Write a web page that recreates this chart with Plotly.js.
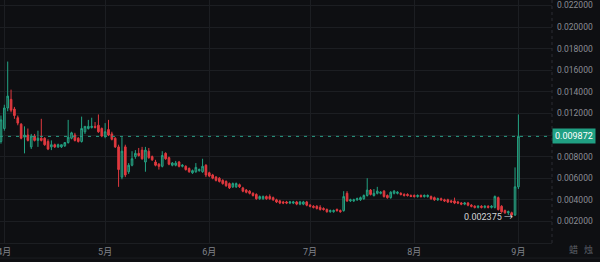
<!DOCTYPE html>
<html>
<head>
<meta charset="utf-8">
<script src="https://cdn.plot.ly/plotly-3.0.1.min.js"></script>
<style>
  html, body { margin: 0; padding: 0; background: #0e0f12; }
  #chart { width: 600px; height: 262px; }
</style>
</head>
<body>
<div id="chart"></div>
<script>
// ---- data (daily candles, first date 2024-03-31) ----
const startDate = '2024-03-31';
const open = [
  0.0094, 0.0106, 0.0125, 0.0133, 0.0124, 0.0116, 0.0110, 0.0098, 0.0100, 0.0089,
  0.0099, 0.0095, 0.0097, 0.0097, 0.0094, 0.0089, 0.0091, 0.0089, 0.0089, 0.0090,
  0.0093, 0.0097, 0.0100, 0.0097, 0.0094, 0.0103, 0.0106, 0.0107, 0.0108, 0.0109,
  0.0106, 0.0099, 0.0105, 0.0101, 0.0097, 0.0089, 0.0061, 0.0089, 0.0066, 0.0072,
  0.0080, 0.0083, 0.0086, 0.0075, 0.0085, 0.0080, 0.0075, 0.0073, 0.0071, 0.0083,
  0.0079, 0.0072, 0.0072, 0.0075, 0.0071, 0.0071, 0.0069, 0.0065, 0.0066, 0.0067,
  0.0066, 0.0072, 0.0065, 0.0063, 0.0061, 0.0060, 0.0058, 0.0057, 0.0055, 0.0052,
  0.0052, 0.0054, 0.0051, 0.0049, 0.0048, 0.0046, 0.0045, 0.0041, 0.0041, 0.0043,
  0.0043, 0.0042, 0.0040, 0.0039, 0.0038, 0.0038, 0.0037, 0.0037, 0.0038, 0.0036,
  0.0036, 0.0038, 0.0035, 0.0034, 0.0034, 0.0033, 0.0032, 0.0031, 0.0029, 0.0029,
  0.0031, 0.0030, 0.0030, 0.0046, 0.0039, 0.0039, 0.0040, 0.0040, 0.0041, 0.0044,
  0.0049, 0.0044, 0.0046, 0.0046, 0.0048, 0.0044, 0.0042, 0.0046, 0.0046, 0.0046,
  0.0045, 0.0045, 0.0044, 0.0044, 0.0043, 0.0044, 0.0043, 0.0043, 0.0043, 0.0042,
  0.0040, 0.0041, 0.0040, 0.0040, 0.0039, 0.0039, 0.0038, 0.0037, 0.0036, 0.0037,
  0.0035, 0.0034, 0.0033, 0.0034, 0.0033, 0.0034, 0.0033, 0.0033, 0.0042, 0.0034,
  0.0030, 0.0028, 0.0028, 0.0026, 0.0052
];
const high = [
  0.0118, 0.0128, 0.0168, 0.0142, 0.0126, 0.0118, 0.0111, 0.0108, 0.0106, 0.0101,
  0.0101, 0.0104, 0.0115, 0.0098, 0.0096, 0.0095, 0.0092, 0.0092, 0.0091, 0.0093,
  0.0114, 0.0103, 0.0102, 0.0098, 0.0117, 0.0108, 0.0114, 0.0116, 0.0112, 0.0119,
  0.0107, 0.0111, 0.0114, 0.0103, 0.0098, 0.0091, 0.0098, 0.0091, 0.0074, 0.0085,
  0.0086, 0.0088, 0.0089, 0.0089, 0.0088, 0.0081, 0.0077, 0.0074, 0.0085, 0.0084,
  0.0080, 0.0075, 0.0076, 0.0076, 0.0073, 0.0072, 0.0070, 0.0068, 0.0074, 0.0069,
  0.0078, 0.0073, 0.0066, 0.0064, 0.0062, 0.0061, 0.0059, 0.0058, 0.0056, 0.0056,
  0.0056, 0.0055, 0.0052, 0.0050, 0.0049, 0.0047, 0.0046, 0.0044, 0.0044, 0.0044,
  0.0045, 0.0043, 0.0041, 0.0040, 0.0039, 0.0039, 0.0039, 0.0039, 0.0039, 0.0039,
  0.0039, 0.0039, 0.0036, 0.0035, 0.0035, 0.0035, 0.0033, 0.0032, 0.0031, 0.0031,
  0.0032, 0.0031, 0.0048, 0.0048, 0.0041, 0.0041, 0.0042, 0.0043, 0.0045, 0.0060,
  0.0050, 0.0050, 0.0052, 0.0048, 0.0049, 0.0045, 0.0048, 0.0049, 0.0048, 0.0047,
  0.0046, 0.0046, 0.0045, 0.0045, 0.0045, 0.0045, 0.0045, 0.0045, 0.0044, 0.0043,
  0.0042, 0.0042, 0.0041, 0.0041, 0.0040, 0.0042, 0.0039, 0.0038, 0.0038, 0.0038,
  0.0036, 0.0035, 0.0035, 0.0035, 0.0035, 0.0035, 0.0035, 0.0044, 0.0043, 0.0035,
  0.0031, 0.0030, 0.0029, 0.0070, 0.0119
];
const low = [
  0.0092, 0.0104, 0.0122, 0.0121, 0.0115, 0.0109, 0.0096, 0.0083, 0.0094, 0.0087,
  0.0094, 0.0089, 0.0094, 0.0090, 0.0086, 0.0086, 0.0088, 0.0088, 0.0088, 0.0089,
  0.0092, 0.0096, 0.0094, 0.0093, 0.0093, 0.0101, 0.0105, 0.0106, 0.0106, 0.0102,
  0.0098, 0.0097, 0.0099, 0.0095, 0.0088, 0.0052, 0.0059, 0.0061, 0.0064, 0.0071,
  0.0078, 0.0080, 0.0077, 0.0066, 0.0078, 0.0076, 0.0071, 0.0068, 0.0070, 0.0077,
  0.0072, 0.0071, 0.0071, 0.0070, 0.0070, 0.0067, 0.0065, 0.0064, 0.0065, 0.0066,
  0.0065, 0.0061, 0.0061, 0.0059, 0.0057, 0.0056, 0.0054, 0.0052, 0.0050, 0.0051,
  0.0051, 0.0051, 0.0047, 0.0046, 0.0045, 0.0043, 0.0040, 0.0040, 0.0040, 0.0040,
  0.0040, 0.0039, 0.0037, 0.0036, 0.0036, 0.0036, 0.0036, 0.0036, 0.0035, 0.0035,
  0.0035, 0.0034, 0.0033, 0.0032, 0.0031, 0.0030, 0.0030, 0.0028, 0.0028, 0.0028,
  0.0029, 0.0028, 0.0029, 0.0038, 0.0038, 0.0038, 0.0039, 0.0039, 0.0040, 0.0043,
  0.0044, 0.0043, 0.0045, 0.0045, 0.0042, 0.0041, 0.0041, 0.0045, 0.0045, 0.0044,
  0.0043, 0.0043, 0.0043, 0.0042, 0.0042, 0.0042, 0.0042, 0.0042, 0.0040, 0.0039,
  0.0039, 0.0039, 0.0038, 0.0037, 0.0037, 0.0036, 0.0036, 0.0035, 0.0035, 0.0034,
  0.0033, 0.0032, 0.0032, 0.0032, 0.0032, 0.0032, 0.0032, 0.0032, 0.0030, 0.0028,
  0.0027, 0.0026, 0.002375, 0.0025, 0.0050
];
const close = [
  0.0114, 0.0125, 0.0136, 0.0123, 0.0118, 0.0111, 0.0097, 0.0100, 0.0095, 0.0099,
  0.0095, 0.0097, 0.0095, 0.0091, 0.0087, 0.0091, 0.0089, 0.0091, 0.0091, 0.0093,
  0.0098, 0.0102, 0.0095, 0.0094, 0.0106, 0.0108, 0.0108, 0.0108, 0.0107, 0.0103,
  0.0099, 0.0103, 0.0100, 0.0096, 0.0089, 0.0068, 0.0085, 0.0063, 0.0072, 0.0078,
  0.0083, 0.0081, 0.0078, 0.0086, 0.0079, 0.0077, 0.0072, 0.0071, 0.0081, 0.0078,
  0.0073, 0.0074, 0.0074, 0.0071, 0.0072, 0.0068, 0.0066, 0.0067, 0.0070, 0.0068,
  0.0071, 0.0063, 0.0062, 0.0060, 0.0058, 0.0057, 0.0055, 0.0053, 0.0051, 0.0055,
  0.0055, 0.0052, 0.0048, 0.0047, 0.0046, 0.0044, 0.0041, 0.0043, 0.0043, 0.0041,
  0.0041, 0.0040, 0.0038, 0.0037, 0.0037, 0.0037, 0.0038, 0.0038, 0.0036, 0.0038,
  0.0038, 0.0035, 0.0034, 0.0033, 0.0032, 0.0031, 0.0031, 0.0029, 0.0030, 0.0030,
  0.0030, 0.0029, 0.0043, 0.0039, 0.0040, 0.0040, 0.0041, 0.0042, 0.0044, 0.0049,
  0.0045, 0.0046, 0.0048, 0.0047, 0.0043, 0.0042, 0.0047, 0.0048, 0.0047, 0.0045,
  0.0044, 0.0044, 0.0043, 0.0043, 0.0044, 0.0043, 0.0044, 0.0044, 0.0041, 0.0040,
  0.0041, 0.0040, 0.0039, 0.0038, 0.0038, 0.0037, 0.0037, 0.0036, 0.0037, 0.0035,
  0.0034, 0.0033, 0.0034, 0.0033, 0.0034, 0.0033, 0.0034, 0.0043, 0.0031, 0.0029,
  0.0028, 0.0029, 0.0026, 0.0052, 0.009872
];
const monthTicks = ['2024-04-01', '2024-05-01', '2024-06-01', '2024-07-01', '2024-08-01', '2024-09-01'];
const monthLabels = ['4月', '5月', '6月', '7月', '8月', '9月'];
const priceTicks = [0.002, 0.004, 0.006, 0.008, 0.010, 0.012, 0.014, 0.016, 0.018, 0.020, 0.022];
const cornerLabels = ['蜡', '烛'];

// ---- build date list (one per candle) ----
const dates = [];
{
  const d0 = new Date(startDate + 'T00:00:00Z');
  for (let i = 0; i < open.length; i++) {
    const d = new Date(d0.getTime() + i * 86400000);
    dates.push(d.toISOString().slice(0, 10));
  }
}

const UP = '#22a383', DOWN = '#e0393f';
const lastClose = close[close.length - 1];
let minIdx = 0;
for (let i = 1; i < low.length; i++) if (low[i] < low[minIdx]) minIdx = i;

const trace = {
  type: 'candlestick',
  x: dates, open: open, high: high, low: low, close: close,
  increasing: { line: { color: UP, width: 1 }, fillcolor: '#27463f' },
  decreasing: { line: { color: DOWN, width: 1 }, fillcolor: DOWN },
  hoverinfo: 'skip',
  showlegend: false
};

const FONT = 'Roboto, "Noto Sans CJK SC", "Noto Sans", sans-serif';

// the current-price badge covers the 0.010000 label, as in the reference
const priceText = priceTicks.map(v => (Math.abs(v - lastClose) < 0.0008 ? '' : v.toFixed(6)));

const layout = {
  width: 600, height: 262,
  margin: { l: 0, r: 48, t: 0, b: 19, pad: 0 },
  paper_bgcolor: '#0e0f12',
  plot_bgcolor: '#0e0f12',
  font: { family: FONT, color: '#80838a', size: 9 },
  showlegend: false,
  xaxis: {
    type: 'date',
    range: ['2024-03-30 17:00', '2024-09-11 00:00'],
    tickvals: monthTicks,
    ticktext: monthLabels,
    tickfont: { size: 9, color: '#80838a', family: FONT },
    ticklabeloverflow: 'allow',
    showgrid: true, gridcolor: '#1c1e22', gridwidth: 1,
    zeroline: false,
    showline: true, linecolor: '#1c1e22', linewidth: 1,
    ticks: '',
    rangeslider: { visible: false },
    fixedrange: true
  },
  yaxis: {
    side: 'right',
    range: [0, 0.0225],
    tickvals: priceTicks,
    ticktext: priceText,
    tickfont: { size: 8.5, color: '#8a8d94', family: FONT },
    showgrid: true, gridcolor: '#1c1e22', gridwidth: 1,
    zeroline: false,
    showline: false,
    ticks: '',
    ticklabelstandoff: 4,
    fixedrange: true
  },
  shapes: [
    { type: 'line', xref: 'paper', yref: 'y', x0: 0, x1: 1, y0: lastClose, y1: lastClose,
      line: { color: '#2a9e86', width: 1, dash: '3px,5px' }, layer: 'above' },
    { type: 'line', xref: 'paper', yref: 'paper', x0: 1, x1: 1, y0: 0, y1: 1,
      line: { color: '#2a2d33', width: 1, dash: 'dot' }, layer: 'above' },
    { type: 'line', xref: 'paper', yref: 'paper', x0: 0, x1: 1.09, y0: -0.062, y1: -0.062,
      line: { color: '#1c1e22', width: 1 }, layer: 'above' }
  ],
  annotations: [
    { xref: 'paper', yref: 'y', x: 1, y: lastClose, xanchor: 'left', yanchor: 'middle',
      text: lastClose.toFixed(6), showarrow: false,
      bgcolor: '#20a083', borderpad: 2, font: { color: '#ffffff', size: 9, family: FONT } },
    { xref: 'x', yref: 'y', x: dates[minIdx], y: low[minIdx], xanchor: 'right', yanchor: 'middle',
      text: low[minIdx].toFixed(6) + ' →', showarrow: false, xshift: 3, yshift: 0,
      font: { color: '#d2d3d6', size: 9, family: FONT } },
    { xref: 'paper', yref: 'paper', x: 573 / 552, y: -6 / 243, xanchor: 'center', yanchor: 'middle',
      text: cornerLabels[0], showarrow: false, font: { color: '#5c6068', size: 9, family: FONT } },
    { xref: 'paper', yref: 'paper', x: 588 / 552, y: -6 / 243, xanchor: 'center', yanchor: 'middle',
      text: cornerLabels[1], showarrow: false, font: { color: '#5c6068', size: 9, family: FONT } }
  ]
};

Plotly.newPlot('chart', [trace], layout, { displayModeBar: false, staticPlot: true });
</script>
</body>
</html>
